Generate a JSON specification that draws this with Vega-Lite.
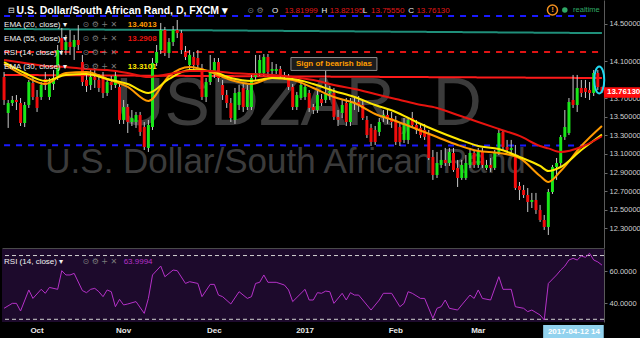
{
"$schema":"https://vega.github.io/schema/vega-lite/v6.json",
"background":"#000000",
"padding":0,
"spacing":1,
"config":{"font":"Liberation Sans","view":{"stroke":null},"axis":{"grid":false,"labelColor":"#d0d0d0","labelFontSize":7.5,"domainColor":"#5a5a5a","tickColor":"#6a6a6a","tickSize":3,"labelPadding":2,"labelOverlap":false,"labelBound":false}},
"datasets":{
"candles":[
{"d":"2016-09-21","o":13.928,"h":13.982,"l":13.627,"c":13.681},
{"d":"2016-09-22","o":13.541,"h":13.681,"l":13.380,"c":13.648},
{"d":"2016-09-23","o":13.648,"h":13.724,"l":13.616,"c":13.681},
{"d":"2016-09-26","o":13.681,"h":13.734,"l":13.573,"c":13.659},
{"d":"2016-09-27","o":13.648,"h":13.702,"l":13.401,"c":13.433},
{"d":"2016-09-28","o":13.433,"h":13.659,"l":13.390,"c":13.627},
{"d":"2016-09-29","o":13.627,"h":13.896,"l":13.595,"c":13.874},
{"d":"2016-09-30","o":13.864,"h":13.917,"l":13.681,"c":13.713},
{"d":"2016-10-03","o":13.713,"h":13.788,"l":13.552,"c":13.595},
{"d":"2016-10-04","o":13.713,"h":13.874,"l":13.681,"c":13.842},
{"d":"2016-10-05","o":13.907,"h":13.982,"l":13.788,"c":13.842},
{"d":"2016-10-06","o":13.713,"h":13.917,"l":13.681,"c":13.874},
{"d":"2016-10-07","o":13.853,"h":14.003,"l":13.788,"c":13.917},
{"d":"2016-10-10","o":13.928,"h":14.272,"l":13.896,"c":14.218},
{"d":"2016-10-11","o":14.347,"h":14.455,"l":14.165,"c":14.218},
{"d":"2016-10-12","o":14.218,"h":14.380,"l":14.165,"c":14.304},
{"d":"2016-10-13","o":14.304,"h":14.433,"l":14.165,"c":14.251},
{"d":"2016-10-14","o":14.251,"h":14.380,"l":14.111,"c":14.326},
{"d":"2016-10-17","o":14.326,"h":14.487,"l":14.218,"c":14.272},
{"d":"2016-10-18","o":14.089,"h":14.165,"l":13.831,"c":13.874},
{"d":"2016-10-19","o":13.896,"h":13.982,"l":13.767,"c":13.831},
{"d":"2016-10-20","o":13.842,"h":14.003,"l":13.788,"c":13.928},
{"d":"2016-10-21","o":13.928,"h":14.025,"l":13.810,"c":13.896},
{"d":"2016-10-24","o":13.896,"h":13.960,"l":13.767,"c":13.810},
{"d":"2016-10-25","o":13.917,"h":13.982,"l":13.702,"c":13.756},
{"d":"2016-10-26","o":13.756,"h":13.917,"l":13.724,"c":13.874},
{"d":"2016-10-27","o":13.874,"h":13.939,"l":13.788,"c":13.842},
{"d":"2016-10-28","o":13.842,"h":14.003,"l":13.810,"c":13.939},
{"d":"2016-10-31","o":13.821,"h":13.853,"l":13.423,"c":13.466},
{"d":"2016-11-01","o":13.466,"h":13.681,"l":13.423,"c":13.605},
{"d":"2016-11-02","o":13.605,"h":13.638,"l":13.326,"c":13.444},
{"d":"2016-11-03","o":13.444,"h":13.573,"l":13.401,"c":13.487},
{"d":"2016-11-04","o":13.444,"h":13.552,"l":13.380,"c":13.519},
{"d":"2016-11-07","o":13.519,"h":13.552,"l":13.294,"c":13.337},
{"d":"2016-11-08","o":13.390,"h":13.444,"l":13.143,"c":13.175},
{"d":"2016-11-09","o":13.165,"h":13.466,"l":13.122,"c":13.412},
{"d":"2016-11-10","o":13.390,"h":14.132,"l":13.358,"c":14.079},
{"d":"2016-11-11","o":14.079,"h":14.272,"l":14.046,"c":14.197},
{"d":"2016-11-14","o":14.218,"h":14.509,"l":14.175,"c":14.433},
{"d":"2016-11-15","o":14.433,"h":14.466,"l":14.154,"c":14.186},
{"d":"2016-11-16","o":14.186,"h":14.347,"l":14.132,"c":14.304},
{"d":"2016-11-17","o":14.304,"h":14.476,"l":14.261,"c":14.433},
{"d":"2016-11-18","o":14.433,"h":14.541,"l":14.347,"c":14.401},
{"d":"2016-11-21","o":14.401,"h":14.433,"l":14.175,"c":14.218},
{"d":"2016-11-22","o":14.197,"h":14.261,"l":14.111,"c":14.143},
{"d":"2016-11-23","o":14.057,"h":14.218,"l":14.003,"c":14.165},
{"d":"2016-11-24","o":14.143,"h":14.197,"l":14.003,"c":14.057},
{"d":"2016-11-25","o":14.132,"h":14.218,"l":14.025,"c":14.057},
{"d":"2016-11-28","o":14.025,"h":14.068,"l":13.681,"c":13.713},
{"d":"2016-11-29","o":13.713,"h":13.917,"l":13.659,"c":13.874},
{"d":"2016-11-30","o":13.874,"h":14.165,"l":13.842,"c":13.982},
{"d":"2016-12-01","o":13.982,"h":14.132,"l":13.917,"c":14.089},
{"d":"2016-12-02","o":14.089,"h":14.132,"l":13.874,"c":13.917},
{"d":"2016-12-05","o":13.842,"h":13.896,"l":13.681,"c":13.734},
{"d":"2016-12-06","o":13.734,"h":13.788,"l":13.595,"c":13.648},
{"d":"2016-12-07","o":13.648,"h":13.702,"l":13.444,"c":13.487},
{"d":"2016-12-08","o":13.466,"h":13.810,"l":13.423,"c":13.756},
{"d":"2016-12-09","o":13.627,"h":13.842,"l":13.573,"c":13.767},
{"d":"2016-12-12","o":13.810,"h":13.853,"l":13.552,"c":13.605},
{"d":"2016-12-13","o":13.605,"h":13.842,"l":13.573,"c":13.788},
{"d":"2016-12-14","o":13.605,"h":13.960,"l":13.573,"c":13.917},
{"d":"2016-12-15","o":13.928,"h":14.165,"l":13.896,"c":13.971},
{"d":"2016-12-16","o":13.971,"h":14.165,"l":13.939,"c":14.111},
{"d":"2016-12-19","o":13.971,"h":14.175,"l":13.939,"c":14.143},
{"d":"2016-12-20","o":14.143,"h":14.175,"l":13.939,"c":13.982},
{"d":"2016-12-21","o":13.993,"h":14.089,"l":13.960,"c":14.014},
{"d":"2016-12-22","o":13.993,"h":14.068,"l":13.960,"c":14.014},
{"d":"2016-12-23","o":14.014,"h":14.046,"l":13.917,"c":13.950},
{"d":"2016-12-26","o":13.950,"h":13.982,"l":13.896,"c":13.928},
{"d":"2016-12-27","o":13.928,"h":13.960,"l":13.788,"c":13.821},
{"d":"2016-12-28","o":13.821,"h":13.853,"l":13.573,"c":13.605},
{"d":"2016-12-29","o":13.605,"h":13.767,"l":13.573,"c":13.734},
{"d":"2016-12-30","o":13.702,"h":13.896,"l":13.681,"c":13.842},
{"d":"2017-01-02","o":13.713,"h":13.853,"l":13.681,"c":13.821},
{"d":"2017-01-03","o":13.756,"h":13.788,"l":13.552,"c":13.595},
{"d":"2017-01-04","o":13.605,"h":13.638,"l":13.530,"c":13.573},
{"d":"2017-01-05","o":13.573,"h":13.788,"l":13.541,"c":13.734},
{"d":"2017-01-06","o":13.691,"h":13.745,"l":13.616,"c":13.648},
{"d":"2017-01-09","o":13.681,"h":14.003,"l":13.648,"c":13.756},
{"d":"2017-01-10","o":13.756,"h":13.831,"l":13.681,"c":13.778},
{"d":"2017-01-11","o":13.756,"h":13.810,"l":13.466,"c":13.498},
{"d":"2017-01-12","o":13.498,"h":13.573,"l":13.401,"c":13.466},
{"d":"2017-01-13","o":13.541,"h":13.681,"l":13.487,"c":13.627},
{"d":"2017-01-16","o":13.648,"h":13.702,"l":13.401,"c":13.444},
{"d":"2017-01-17","o":13.444,"h":13.702,"l":13.401,"c":13.648},
{"d":"2017-01-18","o":13.648,"h":13.724,"l":13.573,"c":13.659},
{"d":"2017-01-19","o":13.659,"h":13.724,"l":13.552,"c":13.627},
{"d":"2017-01-20","o":13.627,"h":13.681,"l":13.466,"c":13.487},
{"d":"2017-01-23","o":13.466,"h":13.509,"l":13.272,"c":13.304},
{"d":"2017-01-24","o":13.380,"h":13.423,"l":13.186,"c":13.229},
{"d":"2017-01-25","o":13.358,"h":13.401,"l":13.197,"c":13.229},
{"d":"2017-01-26","o":13.337,"h":13.487,"l":13.294,"c":13.444},
{"d":"2017-01-27","o":13.487,"h":13.573,"l":13.444,"c":13.519},
{"d":"2017-01-30","o":13.519,"h":13.573,"l":13.423,"c":13.487},
{"d":"2017-01-31","o":13.487,"h":13.552,"l":13.380,"c":13.444},
{"d":"2017-02-01","o":13.466,"h":13.509,"l":13.197,"c":13.229},
{"d":"2017-02-02","o":13.390,"h":13.444,"l":13.186,"c":13.229},
{"d":"2017-02-03","o":13.251,"h":13.487,"l":13.218,"c":13.433},
{"d":"2017-02-06","o":13.251,"h":13.487,"l":13.208,"c":13.466},
{"d":"2017-02-07","o":13.487,"h":13.552,"l":13.380,"c":13.412},
{"d":"2017-02-08","o":13.412,"h":13.466,"l":13.315,"c":13.358},
{"d":"2017-02-09","o":13.380,"h":13.423,"l":13.272,"c":13.304},
{"d":"2017-02-10","o":13.358,"h":13.423,"l":13.251,"c":13.283},
{"d":"2017-02-13","o":13.326,"h":13.358,"l":13.036,"c":13.057},
{"d":"2017-02-14","o":13.068,"h":13.143,"l":12.821,"c":12.874},
{"d":"2017-02-15","o":12.874,"h":13.122,"l":12.842,"c":13.003},
{"d":"2017-02-16","o":12.982,"h":13.143,"l":12.950,"c":13.036},
{"d":"2017-02-17","o":13.036,"h":13.165,"l":12.971,"c":13.003},
{"d":"2017-02-20","o":13.003,"h":13.165,"l":12.971,"c":13.122},
{"d":"2017-02-21","o":13.111,"h":13.165,"l":12.907,"c":12.928},
{"d":"2017-02-22","o":12.950,"h":13.036,"l":12.745,"c":12.842},
{"d":"2017-02-23","o":12.842,"h":13.036,"l":12.821,"c":12.982},
{"d":"2017-02-24","o":12.842,"h":13.089,"l":12.821,"c":13.003},
{"d":"2017-02-27","o":12.982,"h":13.165,"l":12.950,"c":13.111},
{"d":"2017-02-28","o":13.111,"h":13.143,"l":12.950,"c":12.982},
{"d":"2017-03-01","o":12.982,"h":13.165,"l":12.950,"c":13.122},
{"d":"2017-03-02","o":13.122,"h":13.165,"l":12.950,"c":12.982},
{"d":"2017-03-03","o":12.950,"h":13.036,"l":12.928,"c":12.982},
{"d":"2017-03-06","o":12.982,"h":13.057,"l":12.907,"c":12.950},
{"d":"2017-03-07","o":12.950,"h":13.143,"l":12.928,"c":13.122},
{"d":"2017-03-08","o":13.122,"h":13.358,"l":13.089,"c":13.326},
{"d":"2017-03-09","o":13.337,"h":13.358,"l":13.143,"c":13.175},
{"d":"2017-03-10","o":13.175,"h":13.251,"l":13.122,"c":13.143},
{"d":"2017-03-13","o":13.143,"h":13.251,"l":13.089,"c":13.165},
{"d":"2017-03-14","o":13.089,"h":13.197,"l":12.713,"c":12.734},
{"d":"2017-03-15","o":12.756,"h":12.799,"l":12.605,"c":12.713},
{"d":"2017-03-16","o":12.713,"h":12.767,"l":12.627,"c":12.659},
{"d":"2017-03-17","o":12.659,"h":12.734,"l":12.476,"c":12.584},
{"d":"2017-03-20","o":12.584,"h":12.681,"l":12.519,"c":12.605},
{"d":"2017-03-21","o":12.605,"h":12.681,"l":12.455,"c":12.498},
{"d":"2017-03-22","o":12.498,"h":12.552,"l":12.369,"c":12.390},
{"d":"2017-03-23","o":12.390,"h":12.444,"l":12.283,"c":12.315},
{"d":"2017-03-24","o":12.315,"h":12.724,"l":12.229,"c":12.691},
{"d":"2017-03-27","o":12.691,"h":12.982,"l":12.670,"c":12.960},
{"d":"2017-03-28","o":12.960,"h":13.057,"l":12.821,"c":13.003},
{"d":"2017-03-29","o":13.003,"h":13.304,"l":12.971,"c":13.283},
{"d":"2017-03-30","o":13.283,"h":13.573,"l":13.251,"c":13.390},
{"d":"2017-03-31","o":13.326,"h":13.702,"l":13.304,"c":13.659},
{"d":"2017-04-03","o":13.681,"h":13.950,"l":13.595,"c":13.627},
{"d":"2017-04-04","o":13.627,"h":13.950,"l":13.552,"c":13.810},
{"d":"2017-04-05","o":13.810,"h":13.896,"l":13.713,"c":13.756},
{"d":"2017-04-06","o":13.810,"h":13.896,"l":13.702,"c":13.767},
{"d":"2017-04-07","o":13.788,"h":13.874,"l":13.681,"c":13.756},
{"d":"2017-04-10","o":13.756,"h":14.003,"l":13.724,"c":13.971},
{"d":"2017-04-11","o":13.971,"h":14.003,"l":13.788,"c":13.820},
{"d":"2017-04-12","o":13.81999,"h":13.82195,"l":13.7555,"c":13.7613}
],
"ema":[
{"s":"ema20","d":"2016-09-21","p":14.068},{"s":"ema20","d":"2016-09-28","p":13.939},{"s":"ema20","d":"2016-10-05","p":13.853},{"s":"ema20","d":"2016-10-12","p":13.971},{"s":"ema20","d":"2016-10-19","p":13.982},{"s":"ema20","d":"2016-10-26","p":13.907},{"s":"ema20","d":"2016-11-02","p":13.821},{"s":"ema20","d":"2016-11-09","p":13.670},{"s":"ema20","d":"2016-11-16","p":13.939},{"s":"ema20","d":"2016-11-23","p":14.036},{"s":"ema20","d":"2016-11-30","p":13.982},{"s":"ema20","d":"2016-12-07","p":13.896},{"s":"ema20","d":"2016-12-14","p":13.853},{"s":"ema20","d":"2016-12-21","p":13.917},{"s":"ema20","d":"2016-12-28","p":13.896},{"s":"ema20","d":"2017-01-04","p":13.810},{"s":"ema20","d":"2017-01-11","p":13.713},{"s":"ema20","d":"2017-01-18","p":13.648},{"s":"ema20","d":"2017-01-25","p":13.530},{"s":"ema20","d":"2017-02-01","p":13.455},{"s":"ema20","d":"2017-02-08","p":13.369},{"s":"ema20","d":"2017-02-15","p":13.283},{"s":"ema20","d":"2017-02-22","p":13.197},{"s":"ema20","d":"2017-03-01","p":13.132},{"s":"ema20","d":"2017-03-08","p":13.111},{"s":"ema20","d":"2017-03-15","p":13.057},{"s":"ema20","d":"2017-03-22","p":12.863},{"s":"ema20","d":"2017-03-24","p":12.799},{"s":"ema20","d":"2017-03-29","p":12.917},{"s":"ema20","d":"2017-04-05","p":13.186},{"s":"ema20","d":"2017-04-12","p":13.4013},
{"s":"ema30","d":"2016-09-21","p":14.089},{"s":"ema30","d":"2016-09-28","p":13.971},{"s":"ema30","d":"2016-10-05","p":13.885},{"s":"ema30","d":"2016-10-12","p":13.950},{"s":"ema30","d":"2016-10-19","p":13.960},{"s":"ema30","d":"2016-10-26","p":13.907},{"s":"ema30","d":"2016-11-02","p":13.853},{"s":"ema30","d":"2016-11-09","p":13.756},{"s":"ema30","d":"2016-11-16","p":13.907},{"s":"ema30","d":"2016-11-23","p":14.003},{"s":"ema30","d":"2016-11-30","p":13.993},{"s":"ema30","d":"2016-12-07","p":13.917},{"s":"ema30","d":"2016-12-14","p":13.885},{"s":"ema30","d":"2016-12-21","p":13.917},{"s":"ema30","d":"2016-12-28","p":13.907},{"s":"ema30","d":"2017-01-04","p":13.853},{"s":"ema30","d":"2017-01-11","p":13.778},{"s":"ema30","d":"2017-01-18","p":13.713},{"s":"ema30","d":"2017-01-25","p":13.627},{"s":"ema30","d":"2017-02-01","p":13.552},{"s":"ema30","d":"2017-02-08","p":13.444},{"s":"ema30","d":"2017-02-15","p":13.347},{"s":"ema30","d":"2017-02-22","p":13.261},{"s":"ema30","d":"2017-03-01","p":13.186},{"s":"ema30","d":"2017-03-08","p":13.154},{"s":"ema30","d":"2017-03-15","p":13.068},{"s":"ema30","d":"2017-03-22","p":12.971},{"s":"ema30","d":"2017-03-24","p":12.917},{"s":"ema30","d":"2017-03-29","p":12.960},{"s":"ema30","d":"2017-04-05","p":13.143},{"s":"ema30","d":"2017-04-12","p":13.3101},
{"s":"ema55","d":"2016-09-21","p":14.111},{"s":"ema55","d":"2016-09-28","p":14.079},{"s":"ema55","d":"2016-10-05","p":14.046},{"s":"ema55","d":"2016-10-12","p":14.036},{"s":"ema55","d":"2016-10-19","p":14.014},{"s":"ema55","d":"2016-10-26","p":14.003},{"s":"ema55","d":"2016-11-02","p":13.971},{"s":"ema55","d":"2016-11-09","p":13.928},{"s":"ema55","d":"2016-11-16","p":13.960},{"s":"ema55","d":"2016-11-23","p":13.993},{"s":"ema55","d":"2016-11-30","p":13.993},{"s":"ema55","d":"2016-12-07","p":13.971},{"s":"ema55","d":"2016-12-14","p":13.960},{"s":"ema55","d":"2016-12-21","p":13.950},{"s":"ema55","d":"2016-12-28","p":13.928},{"s":"ema55","d":"2017-01-04","p":13.896},{"s":"ema55","d":"2017-01-11","p":13.842},{"s":"ema55","d":"2017-01-18","p":13.799},{"s":"ema55","d":"2017-01-25","p":13.745},{"s":"ema55","d":"2017-02-01","p":13.691},{"s":"ema55","d":"2017-02-08","p":13.638},{"s":"ema55","d":"2017-02-15","p":13.595},{"s":"ema55","d":"2017-02-22","p":13.519},{"s":"ema55","d":"2017-03-01","p":13.444},{"s":"ema55","d":"2017-03-08","p":13.369},{"s":"ema55","d":"2017-03-15","p":13.294},{"s":"ema55","d":"2017-03-22","p":13.186},{"s":"ema55","d":"2017-03-24","p":13.160},{"s":"ema55","d":"2017-03-29","p":13.122},{"s":"ema55","d":"2017-04-05","p":13.175},{"s":"ema55","d":"2017-04-12","p":13.2908}
],
"hl":[
{"s":"bt","d":"2016-09-21","p":14.584},{"s":"bt","d":"2017-04-07","p":14.584},
{"s":"tl","d":"2016-09-21","p":14.445},{"s":"tl","d":"2017-04-12","p":14.400},
{"s":"rd","d":"2016-09-21","p":14.197},{"s":"rd","d":"2017-04-12","p":14.197},
{"s":"rs","d":"2016-09-21","p":13.950},{"s":"rs","d":"2017-04-12","p":13.917},
{"s":"bb","d":"2016-09-21","p":13.195},{"s":"bb","d":"2017-04-07","p":13.190}
],
"rsi":[
{"d":"2016-09-21","v":36.9},{"d":"2016-09-23","v":40.0},{"d":"2016-09-26","v":40.0},{"d":"2016-09-27","v":35.2},{"d":"2016-09-29","v":48.4},{"d":"2016-09-30","v":43.1},{"d":"2016-10-04","v":48.8},{"d":"2016-10-05","v":46.3},{"d":"2016-10-06","v":50.0},{"d":"2016-10-10","v":48.8},{"d":"2016-10-11","v":60.5},{"d":"2016-10-12","v":57.8},{"d":"2016-10-13","v":57.8},{"d":"2016-10-14","v":58.8},{"d":"2016-10-18","v":48.0},{"d":"2016-10-19","v":46.7},{"d":"2016-10-20","v":48.8},{"d":"2016-10-21","v":49.4},{"d":"2016-10-24","v":47.3},{"d":"2016-10-25","v":44.2},{"d":"2016-10-26","v":48.4},{"d":"2016-10-27","v":47.3},{"d":"2016-10-28","v":37.9},{"d":"2016-10-31","v":42.5},{"d":"2016-11-01","v":39.0},{"d":"2016-11-02","v":39.6},{"d":"2016-11-04","v":41.1},{"d":"2016-11-08","v":33.7},{"d":"2016-11-09","v":43.1},{"d":"2016-11-10","v":57.8},{"d":"2016-11-14","v":63.4},{"d":"2016-11-15","v":56.7},{"d":"2016-11-17","v":60.9},{"d":"2016-11-18","v":60.5},{"d":"2016-11-22","v":52.5},{"d":"2016-11-23","v":53.6},{"d":"2016-11-25","v":52.5},{"d":"2016-11-28","v":44.2},{"d":"2016-11-30","v":51.9},{"d":"2016-12-01","v":51.9},{"d":"2016-12-02","v":45.2},{"d":"2016-12-05","v":44.2},{"d":"2016-12-07","v":39.6},{"d":"2016-12-09","v":47.3},{"d":"2016-12-13","v":43.1},{"d":"2016-12-14","v":44.2},{"d":"2016-12-15","v":52.5},{"d":"2016-12-16","v":53.2},{"d":"2016-12-19","v":57.8},{"d":"2016-12-20","v":53.2},{"d":"2016-12-22","v":53.2},{"d":"2016-12-26","v":51.5},{"d":"2016-12-27","v":48.4},{"d":"2016-12-28","v":41.1},{"d":"2017-01-02","v":48.8},{"d":"2017-01-03","v":42.1},{"d":"2017-01-04","v":42.1},{"d":"2017-01-05","v":46.7},{"d":"2017-01-06","v":46.3},{"d":"2017-01-09","v":47.7},{"d":"2017-01-10","v":47.3},{"d":"2017-01-11","v":40.0},{"d":"2017-01-13","v":46.3},{"d":"2017-01-16","v":42.1},{"d":"2017-01-17","v":46.7},{"d":"2017-01-18","v":45.2},{"d":"2017-01-19","v":45.2},{"d":"2017-01-20","v":42.1},{"d":"2017-01-24","v":35.8},{"d":"2017-01-26","v":42.1},{"d":"2017-01-27","v":46.3},{"d":"2017-01-31","v":46.3},{"d":"2017-02-02","v":37.9},{"d":"2017-02-03","v":40.0},{"d":"2017-02-06","v":47.3},{"d":"2017-02-07","v":46.3},{"d":"2017-02-09","v":43.1},{"d":"2017-02-10","v":43.1},{"d":"2017-02-14","v":30.6},{"d":"2017-02-15","v":36.9},{"d":"2017-02-16","v":37.9},{"d":"2017-02-17","v":42.1},{"d":"2017-02-20","v":36.9},{"d":"2017-02-22","v":35.8},{"d":"2017-02-23","v":39.0},{"d":"2017-02-27","v":45.2},{"d":"2017-02-28","v":43.1},{"d":"2017-03-01","v":48.4},{"d":"2017-03-02","v":43.1},{"d":"2017-03-06","v":42.1},{"d":"2017-03-08","v":56.7},{"d":"2017-03-09","v":48.8},{"d":"2017-03-13","v":48.8},{"d":"2017-03-14","v":37.9},{"d":"2017-03-16","v":36.9},{"d":"2017-03-17","v":34.8},{"d":"2017-03-20","v":35.8},{"d":"2017-03-22","v":32.7},{"d":"2017-03-23","v":29.6},{"d":"2017-03-24","v":52.5},{"d":"2017-03-28","v":57.8},{"d":"2017-03-29","v":60.9},{"d":"2017-03-30","v":63.4},{"d":"2017-03-31","v":67.2},{"d":"2017-04-03","v":68.2},{"d":"2017-04-04","v":67.2},{"d":"2017-04-05","v":69.7},{"d":"2017-04-06","v":68.9},{"d":"2017-04-07","v":71.4},{"d":"2017-04-10","v":67.2},{"d":"2017-04-11","v":66.0},{"d":"2017-04-12","v":64.0}
],
"hdr":[
{"d":"2016-09-22","p":14.638,"t":"⊟","k":"key"},
{"d":"2016-09-26","p":14.638,"t":"U.S. Dollar/South African Rand, D, FXCM ▾","k":"title"},
{"d":"2016-12-13","p":14.638,"t":"⊙ ⚙","k":"icon"},
{"d":"2016-12-21","p":14.638,"t":"O","k":"key"},
{"d":"2016-12-26","p":14.638,"t":"13.81999","k":"val"},
{"d":"2017-01-06","p":14.638,"t":"H","k":"key"},
{"d":"2017-01-10","p":14.638,"t":"13.82195","k":"val"},
{"d":"2017-01-20","p":14.638,"t":"L","k":"key"},
{"d":"2017-01-24","p":14.638,"t":"13.75550","k":"val"},
{"d":"2017-02-06","p":14.638,"t":"C","k":"key"},
{"d":"2017-02-08","p":14.638,"t":"13.76130","k":"val"},
{"d":"2016-09-21","p":14.487,"t":"EMA (20, close) ▾","k":"leg"},
{"d":"2016-10-18","p":14.487,"t":"⊙ ⚙ + ✕","k":"icon"},
{"d":"2016-11-02","p":14.487,"t":"13.4013","k":"ema20"},
{"d":"2016-09-21","p":14.337,"t":"EMA (55, close) ▾","k":"leg"},
{"d":"2016-10-18","p":14.337,"t":"⊙ ⚙ + ✕","k":"icon"},
{"d":"2016-11-02","p":14.337,"t":"13.2908","k":"ema55"},
{"d":"2016-09-21","p":14.186,"t":"RSI (14, close) ▾","k":"leg"},
{"d":"2016-10-18","p":14.186,"t":"⊙ ⚙ + ✕","k":"icon"},
{"d":"2016-09-21","p":14.036,"t":"EMA (30, close) ▾","k":"leg"},
{"d":"2016-10-18","p":14.036,"t":"⊙ ⚙ + ✕","k":"icon"},
{"d":"2016-11-02","p":14.036,"t":"13.3101","k":"ema30"},
{"d":"2017-04-03","p":14.648,"t":"realtime","k":"rt"}
],
"marks":[{"d":"2017-03-27","p":14.648,"t":"!"},{"d":"2017-03-30","p":14.648,"t":"●"}],
"wm":[{"d":"2016-10-28","p":13.412,"t":"USDZAR, D","k":"big"},{"d":"2016-10-05","p":12.896,"t":"U.S. Dollar/South African Rand","k":"small"}],
"note":[{"d":"2017-01-11","p":14.068,"t":"Sign of bearish bias"}],
"last":[{"d":"2017-04-12","p":13.7613,"t":"13.76130","e":13.896}],
"lvl":[{"v":70},{"v":30}],
"rhdr":[{"d":"2016-09-21","v":65.9,"t":"RSI (14, close) ▾","k":"leg"},{"d":"2016-10-18","v":65.9,"t":"⊙ ⚙ + ✕","k":"icon"},{"d":"2016-11-01","v":65.9,"t":"63.9994","k":"rsi"}],
"tag":[{"d":"2017-04-12","v":28.3,"t":"2017-04-12 14"}]
},
"vconcat":[
{
"width":602,"height":248,
"layer":[
{"data":{"name":"wm"},"transform":[{"filter":"datum.k=='big'"}],"mark":{"type":"text","align":"left","baseline":"alphabetic","fontSize":68,"color":"#3b3b3b"},
 "encoding":{"x":{"field":"d","type":"ordinal","sort":"ascending","title":null,"scale":{"type":"band","paddingInner":0,"paddingOuter":0},"axis":{"labels":false,"ticks":false,"domain":true,"domainColor":"#4a4a4a","title":null}},
  "y":{"field":"p","type":"quantitative","title":null,"scale":{"domain":[12.089,14.756],"nice":false,"zero":false},"axis":{"orient":"right","title":null,"values":[14.5,14.1,13.7,13.5,13.3,13.1,12.9,12.7,12.5,12.3],"tickCount":20,"format":".5f","labelOverlap":false,"labelBound":false}},"text":{"field":"t"}}},
{"data":{"name":"wm"},"transform":[{"filter":"datum.k=='small'"}],"mark":{"type":"text","align":"left","baseline":"alphabetic","fontSize":35,"color":"#3b3b3b"},
 "encoding":{"x":{"field":"d","type":"ordinal","sort":"ascending","title":null},"y":{"field":"p","type":"quantitative","title":null},"text":{"field":"t"}}},
{"data":{"name":"hl"},"mark":{"type":"line","strokeWidth":2},
 "encoding":{"x":{"field":"d","type":"ordinal","sort":"ascending","title":null},"y":{"field":"p","type":"quantitative","title":null},
  "color":{"field":"s","type":"nominal","legend":null,"scale":{"domain":["bt","tl","rd","rs","bb","ema20","ema30","ema55"],"range":["#1a1aff","#1f8f7a","#e01414","#ff1a1a","#1a1aff","#ff9a00","#ffe800","#e8140f"]}},
  "strokeDash":{"field":"s","type":"nominal","legend":null,"scale":{"domain":["bt","tl","rd","rs","bb"],"range":[[6,6],[1,0],[6,6],[1,0],[6,6]]}}}},
{"data":{"name":"candles"},"mark":{"type":"rule","color":"#c8c8c8","strokeWidth":1},
 "encoding":{"x":{"field":"d","type":"ordinal","sort":"ascending","title":null},"y":{"field":"l","type":"quantitative","title":null},"y2":{"field":"h"}}},
{"data":{"name":"candles"},"mark":{"type":"bar","width":{"band":0.72}},
 "encoding":{"x":{"field":"d","type":"ordinal","sort":"ascending","title":null},"y":{"field":"o","type":"quantitative","title":null},"y2":{"field":"c"},
  "color":{"condition":{"test":"datum.c >= datum.o","value":"#19e619"},"value":"#f20d0d"}}},
{"data":{"name":"ema"},"mark":{"type":"line","strokeWidth":2,"interpolate":"monotone"},
 "encoding":{"x":{"field":"d","type":"ordinal","sort":"ascending","title":null},"y":{"field":"p","type":"quantitative","title":null},
  "color":{"field":"s","type":"nominal","legend":null,"scale":{"domain":["bt","tl","rd","rs","bb","ema20","ema30","ema55"],"range":["#1a1aff","#1f8f7a","#e01414","#ff1a1a","#1a1aff","#ff9a00","#ffe800","#e8140f"]}}}},
{"data":{"name":"note"},"mark":{"type":"point","shape":"M-1,-0.15H1V0.15H-1Z","size":7396,"filled":true,"fill":"#1c1c1c","stroke":"#8c8c8c","strokeWidth":1,"opacity":1},
 "encoding":{"x":{"field":"d","type":"ordinal","sort":"ascending","title":null},"y":{"field":"p","type":"quantitative","title":null}}},
{"data":{"name":"note"},"mark":{"type":"text","align":"center","fontSize":8,"fontWeight":"bold","color":"#ff9d00"},
 "encoding":{"x":{"field":"d","type":"ordinal","sort":"ascending","title":null},"y":{"field":"p","type":"quantitative","title":null},"text":{"field":"t"}}},
{"data":{"name":"last"},"mark":{"type":"point","shape":"M-0.2,-1A0.37,1,0,1,1,-0.2,1A0.37,1,0,1,1,-0.2,-1Z","size":729,"filled":false,"stroke":"#22d8f0","strokeWidth":2,"opacity":1},
 "encoding":{"x":{"field":"d","type":"ordinal","sort":"ascending","title":null},"y":{"field":"e","type":"quantitative","title":null}}},
{"data":{"name":"last"},"mark":{"type":"point","shape":"M0.05,-0.13H1V0.13H0.05Z","size":6400,"filled":true,"fill":"#ff0d0d","opacity":1,"strokeWidth":0},
 "encoding":{"x":{"field":"d","type":"ordinal","sort":"ascending","title":null},"y":{"field":"p","type":"quantitative","title":null}}},
{"data":{"name":"last"},"mark":{"type":"text","align":"left","dx":5,"fontSize":8,"fontWeight":"bold","color":"#ffffff"},
 "encoding":{"x":{"field":"d","type":"ordinal","sort":"ascending","title":null},"y":{"field":"p","type":"quantitative","title":null},"text":{"field":"t"}}},
{"data":{"name":"hdr"},"transform":[{"filter":"datum.k=='title'"}],"mark":{"type":"text","align":"left","fontSize":10.5,"fontWeight":"bold","color":"#ffffff"},
 "encoding":{"x":{"field":"d","type":"ordinal","sort":"ascending","title":null},"y":{"field":"p","type":"quantitative","title":null},"text":{"field":"t"}}},
{"data":{"name":"hdr"},"transform":[{"filter":"datum.k=='key' || datum.k=='leg'"}],"mark":{"type":"text","align":"left","fontSize":8,"color":"#f0f0f0"},
 "encoding":{"x":{"field":"d","type":"ordinal","sort":"ascending","title":null},"y":{"field":"p","type":"quantitative","title":null},"text":{"field":"t"}}},
{"data":{"name":"hdr"},"transform":[{"filter":"datum.k=='val'"}],"mark":{"type":"text","align":"left","fontSize":8,"color":"#e01818"},
 "encoding":{"x":{"field":"d","type":"ordinal","sort":"ascending","title":null},"y":{"field":"p","type":"quantitative","title":null},"text":{"field":"t"}}},
{"data":{"name":"hdr"},"transform":[{"filter":"datum.k=='ema20' || datum.k=='ema30' || datum.k=='ema55'"}],"mark":{"type":"text","align":"left","fontSize":8,"fontWeight":"bold"},
 "encoding":{"x":{"field":"d","type":"ordinal","sort":"ascending","title":null},"y":{"field":"p","type":"quantitative","title":null},"text":{"field":"t"},
  "color":{"field":"k","type":"nominal","legend":null,"scale":{"domain":["bt","tl","rd","rs","bb","ema20","ema30","ema55"],"range":["#1a1aff","#1f8f7a","#e01414","#ff1a1a","#1a1aff","#ff9a00","#ffe800","#e8140f"]}}}},
{"data":{"name":"hdr"},"transform":[{"filter":"datum.k=='icon'"}],"mark":{"type":"text","align":"left","fontSize":8,"font":"DejaVu Sans","color":"#7a7a7a"},
 "encoding":{"x":{"field":"d","type":"ordinal","sort":"ascending","title":null},"y":{"field":"p","type":"quantitative","title":null},"text":{"field":"t"}}},
{"data":{"name":"hdr"},"transform":[{"filter":"datum.k=='rt'"}],"mark":{"type":"text","align":"left","fontSize":7.5,"color":"#2fa866"},
 "encoding":{"x":{"field":"d","type":"ordinal","sort":"ascending","title":null},"y":{"field":"p","type":"quantitative","title":null},"text":{"field":"t"}}},
{"data":{"name":"marks"},"transform":[{"filter":"datum.t=='!'"}],"mark":{"type":"point","shape":"circle","size":100,"filled":false,"stroke":"#f09020","strokeWidth":1.5,"opacity":1},
 "encoding":{"x":{"field":"d","type":"ordinal","sort":"ascending","title":null},"y":{"field":"p","type":"quantitative","title":null}}},
{"data":{"name":"marks"},"transform":[{"filter":"datum.t=='!'"}],"mark":{"type":"text","align":"center","fontSize":8,"fontWeight":"bold","color":"#f09020"},
 "encoding":{"x":{"field":"d","type":"ordinal","sort":"ascending","title":null},"y":{"field":"p","type":"quantitative","title":null},"text":{"field":"t"}}},
{"data":{"name":"marks"},"transform":[{"filter":"datum.t=='●'"}],"mark":{"type":"point","shape":"circle","size":30,"filled":true,"color":"#2fa866","opacity":1},
 "encoding":{"x":{"field":"d","type":"ordinal","sort":"ascending","title":null},"y":{"field":"p","type":"quantitative","title":null}}}
]
},
{
"width":602,"height":73,
"view":{"fill":"#1d0a2c","stroke":null},
"layer":[
{"data":{"name":"candles"},"mark":{"type":"rule","opacity":0},
 "encoding":{"x":{"field":"d","type":"ordinal","sort":"ascending","title":null,"scale":{"type":"band","paddingInner":0,"paddingOuter":0},
   "axis":{"title":null,"values":["2016-10-03","2016-11-01","2016-12-01","2017-01-02","2017-02-01","2017-03-01"],"labelExpr":"datum.value=='2016-10-03'?'Oct':datum.value=='2016-11-01'?'Nov':datum.value=='2016-12-01'?'Dec':datum.value=='2017-01-02'?'2017':datum.value=='2017-02-01'?'Feb':'Mar'","ticks":false,"domain":false,"labelColor":"#e8e8e8","labelFontSize":8,"labelFontWeight":"bold","labelPadding":4,"labelAngle":0}}}},
{"data":{"name":"lvl"},"mark":{"type":"rule","stroke":"#d0d0d0","strokeDash":[4,3],"strokeWidth":1},
 "encoding":{"y":{"field":"v","type":"quantitative","title":null,"scale":{"domain":[28.3,74.1],"nice":false,"zero":false},"axis":{"orient":"right","title":null,"values":[60,40],"tickCount":10,"format":".4f","labelOverlap":false}}}},
{"data":{"name":"rsi"},"mark":{"type":"line","color":"#b531c8","strokeWidth":1},
 "encoding":{"x":{"field":"d","type":"ordinal","sort":"ascending","title":null},"y":{"field":"v","type":"quantitative","title":null}}},
{"data":{"name":"rhdr"},"transform":[{"filter":"datum.k=='leg'"}],"mark":{"type":"text","align":"left","fontSize":8,"color":"#f0f0f0"},
 "encoding":{"x":{"field":"d","type":"ordinal","sort":"ascending","title":null},"y":{"field":"v","type":"quantitative","title":null},"text":{"field":"t"}}},
{"data":{"name":"rhdr"},"transform":[{"filter":"datum.k=='icon'"}],"mark":{"type":"text","align":"left","fontSize":8,"font":"DejaVu Sans","color":"#7a7a7a"},
 "encoding":{"x":{"field":"d","type":"ordinal","sort":"ascending","title":null},"y":{"field":"v","type":"quantitative","title":null},"text":{"field":"t"}}},
{"data":{"name":"rhdr"},"transform":[{"filter":"datum.k=='rsi'"}],"mark":{"type":"text","align":"left","fontSize":8,"color":"#b531c8"},
 "encoding":{"x":{"field":"d","type":"ordinal","sort":"ascending","title":null},"y":{"field":"v","type":"quantitative","title":null},"text":{"field":"t"}}},
{"data":{"name":"tag"},"mark":{"type":"point","shape":"M-0.98,0.05H0.03V0.27H-0.98Z","size":14400,"filled":true,"fill":"#92d2ee","opacity":1,"strokeWidth":0},
 "encoding":{"x":{"field":"d","type":"ordinal","sort":"ascending","title":null},"y":{"field":"v","type":"quantitative","title":null}}},
{"data":{"name":"tag"},"mark":{"type":"text","align":"center","dx":-28,"dy":10,"fontSize":8,"fontWeight":"bold","color":"#ffffff"},
 "encoding":{"x":{"field":"d","type":"ordinal","sort":"ascending","title":null},"y":{"field":"v","type":"quantitative","title":null},"text":{"field":"t"}}}
]
}
]
}
